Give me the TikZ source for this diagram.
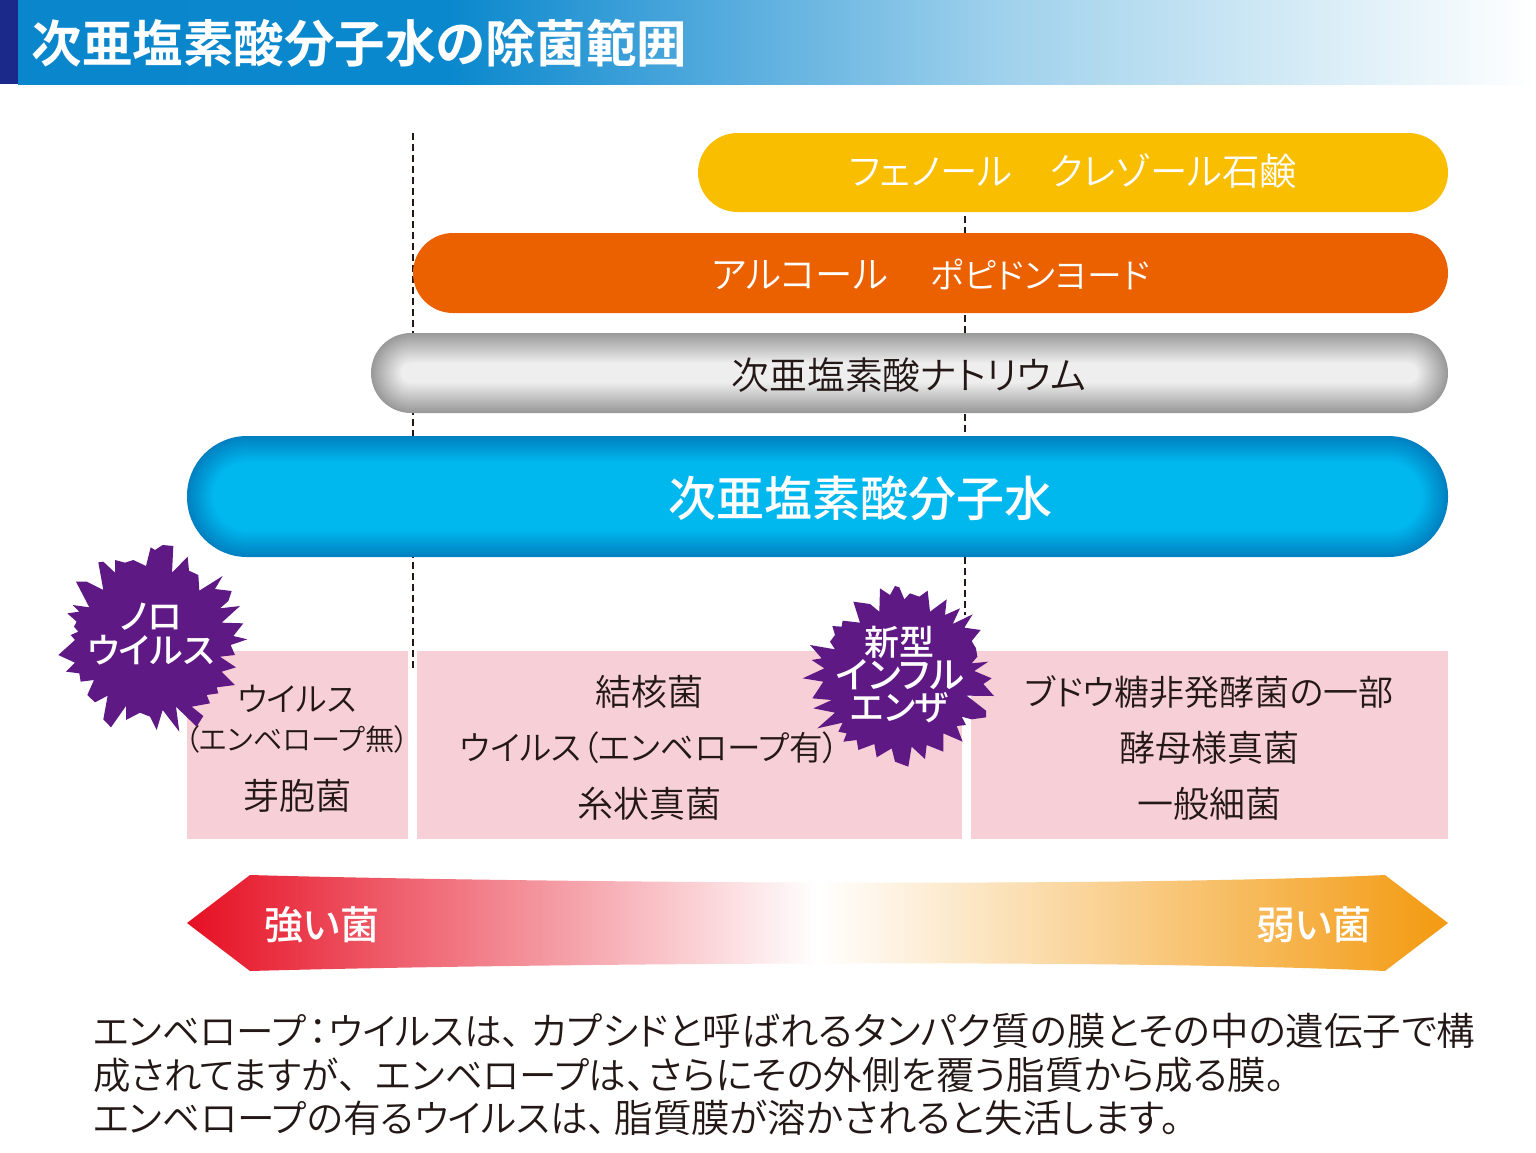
\documentclass[tikz,border=0pt]{standalone}
\usepackage{fontspec}
\setmainfont{Noto Sans CJK JP}
\newfontfamily\jp[RawFeature=+palt]{Noto Sans CJK JP DemiLight}
\newfontfamily\jpn{Noto Sans CJK JP DemiLight}
\newfontfamily\jpm[RawFeature=+palt]{Noto Sans CJK JP Medium}
\newfontfamily\jpt[RawFeature=+palt]{Noto Sans CJK JP Bold}
\newcommand{\ten}[1]{{\jpn 、}\kern#1pt\relax}
\newcommand{\wider}[1]{{\fontsize{38.5pt}{38.5pt}\selectfont #1}}
\definecolor{navy}{HTML}{1B2A8A}
\definecolor{yellowbar}{HTML}{FABE00}
\definecolor{orangebar}{HTML}{EB6100}
\definecolor{pinkbox}{HTML}{F7CFD6}
\definecolor{burst}{HTML}{5F1985}
\definecolor{inkdark}{HTML}{231815}
\definecolor{arrowred}{HTML}{E60F23}
\definecolor{arroworange}{HTML}{F39A10}
\definecolor{greyedge}{HTML}{999999}
\definecolor{greymid}{HTML}{EEEEEE}
\definecolor{blueedge}{HTML}{0080C0}
\definecolor{bluemid}{HTML}{00B7EE}
\pgfdeclarehorizontalshading{titlegrad}{100bp}{
  rgb(0bp)=(0.04,0.525,0.80);
  rgb(25bp)=(0.04,0.525,0.80);
  rgb(39.25bp)=(0.04,0.535,0.805);
  rgb(47.5bp)=(0.306,0.659,0.863);
  rgb(57.35bp)=(0.624,0.82,0.925);
  rgb(67.25bp)=(0.835,0.922,0.965);
  rgb(75bp)=(1,1,1);
  rgb(100bp)=(1,1,1)}
\newcommand{\glowbar}[8]{%
  \foreach \k in {0,...,#8}{%
    \pgfmathsetmacro{\pc}{100*(\k/#8)}%
    \pgfmathsetmacro{\rr}{max(#5-\k,1)}%
    \fill[rounded corners=\rr pt, color=#7!\pc!#6]
      ({#1+\k},{#2+\k}) rectangle ({#3-\k},{#4-\k});
  }}
\tikzset{
  txt/.style={inner sep=0pt,outer sep=0pt,anchor=center,font=\jp\fontsize{#1}{#1}\selectfont,text=inkdark},
  wtxt/.style={inner sep=0pt,outer sep=0pt,anchor=center,font=\jp\fontsize{#1}{#1}\selectfont,text=white},
  mtxt/.style={inner sep=0pt,outer sep=0pt,anchor=center,font=\jpm\fontsize{#1}{#1}\selectfont,text=white},
  ttxt/.style={inner sep=0pt,outer sep=0pt,anchor=center,font=\jpt\fontsize{#1}{#1}\selectfont,text=white},
  guide/.style={draw=inkdark,line width=1.2pt,dash pattern=on 7pt off 4pt},
  pinkrect/.style={fill=pinkbox}
}
\begin{document}
\begin{tikzpicture}[x=1pt,y=-1pt]
\useasboundingbox (0,0) rectangle (1536,1152);
\fill[white] (0,0) rectangle (1536,1152);
% title band
\shade[shading=titlegrad,shading angle=0] (18,0) rectangle (1536,84);
\fill[navy] (0,0) rectangle (18,84);
\node[ttxt=50.5pt,anchor=west] (title) at (31.5,43) {次亜塩素酸分子水の除菌範囲};
% dashed guides
\coordinate (ga) at (413,133); \coordinate (gb) at (413,670);
\coordinate (gc) at (965,205); \coordinate (gd) at (965,615);
\draw[guide] (ga) -- (gb);
\draw[guide] (gc) -- (gd);
% bars
\fill[yellowbar,rounded corners=39.5pt] (698,133) rectangle (1448,212);
\fill[orangebar,rounded corners=40pt] (413,233) rectangle (1448,313);
\glowbar{371}{333}{1448}{413}{40}{greyedge}{greymid}{30}
\glowbar{187}{436}{1448}{557}{60}{blueedge}{bluemid}{26}
\node[wtxt=37.4pt] (phenol) at (1073,171) {フェノール　クレゾール石鹸};
\node[wtxt=37.4pt,anchor=west] (alcohol) at (712,274) {アルコール　\kern5pt{\fontsize{34.8pt}{36pt}\selectfont ポピドンヨード}};
\node[txt=37.8pt] (naocl) at (909,375) {次亜塩素酸ナトリウム};
\node[mtxt=48pt] (hocl) at (860,498) {次亜塩素酸分子水};
% pink boxes
\fill[pinkrect] (187,651) rectangle (408,839);
\fill[pinkrect] (417,651) rectangle (962,839);
\fill[pinkrect] (971,651) rectangle (1448,839);
\node[txt=33pt] (b1a) at (297,699) {ウイルス};
\node[txt=29.2pt] (b1b) at (297,739) {（エンベロープ無）};
\node[txt=36pt] (b1c) at (297.5,796) {芽胞菌};
\node[txt=36pt] (b2a) at (649.5,692) {結核菌};
\node[txt=33.6pt] (b2b) at (650,748) {ウイルス（エンベロープ有）};
\node[txt=36pt] (b2c) at (649,804) {糸状真菌};
\node[txt=35pt] (b3a) at (1209,692) {ブドウ糖非発酵菌の一部};
\node[txt=36pt] (b3b) at (1209.5,748) {酵母様真菌};
\node[txt=36pt] (b3c) at (1209.5,804) {一般細菌};
% bursts
\begin{scope}[shift={(40pt,-530pt)},x=.33333pt,y=-.33333pt]
\fill[burst] (368,45)--(400,48)--(396,128)--(443,80)--(447,122)--(475,135)--(478,182)--(548,138)--(525,177)--(575,183)--(565,213)--(540,235)--(600,228)--(545,278)--(610,280)--(580,318)--(622,328)--(572,345)--(585,375)--(540,380)--(588,412)--(545,425)--(585,465)--(530,472)--(535,490)--(500,495)--(510,520)--(455,530)--(490,558)--(470,590)--(408,530)--(418,605)--(368,540)--(350,600)--(330,560)--(300,548)--(258,570)--(258,528)--(213,592)--(190,568)--(203,497)--(165,517)--(142,495)--(162,450)--(122,455)--(118,430)--(78,425)--(105,398)--(55,375)--(105,330)--(92,315)--(115,305)--(102,290)--(110,275)--(82,250)--(118,245)--(98,225)--(148,232)--(108,155)--(140,155)--(190,180)--(175,97)--(190,95)--(225,128)--(225,90)--(255,98)--(280,90)--(318,108)--(332,52)--(345,60)--cycle;
\end{scope}
\begin{scope}[shift={(780pt,-560pt)},x=.33333pt,y=-.33333pt]
\fill[burst] (345,78)--(358,82)--(373,118)--(390,100)--(418,110)--(443,92)--(450,155)--(500,118)--(495,165)--(540,145)--(518,192)--(578,163)--(553,203)--(602,210)--(575,243)--(588,265)--(592,290)--(575,310)--(625,305)--(583,333)--(635,355)--(610,372)--(642,408)--(560,407)--(618,452)--(618,472)--(575,478)--(545,470)--(558,495)--(530,498)--(548,545)--(490,520)--(490,575)--(440,555)--(435,597)--(395,560)--(385,620)--(345,605)--(335,565)--(290,592)--(283,552)--(235,570)--(230,540)--(190,545)--(200,520)--(175,515)--(188,488)--(112,505)--(165,458)--(100,445)--(155,420)--(97,415)--(130,365)--(68,355)--(133,325)--(95,300)--(125,295)--(90,255)--(165,268)--(150,245)--(165,225)--(157,198)--(185,200)--(188,182)--(240,188)--(220,125)--(270,132)--(298,155)--(300,85)--(330,105)--cycle;
\end{scope}
\node[mtxt=35pt] (n1) at (151,617) {ノロ};
\node[mtxt=35pt] (n2) at (151,650) {ウイルス};
\node[mtxt=35pt] (f1) at (899.5,642) {新型};
\node[mtxt=36.5pt] (f2) at (900,675) {インフル};
\node[mtxt=35pt] (f3) at (899.5,708) {エンザ};
% strength arrow
\shade[left color=arrowred,right color=arroworange,middle color=white,shading angle=90]
  (187,923) -- (250,875) .. controls (500,882) and (1100,888) .. (1385,875) -- (1448,923) -- (1385,971) .. controls (1100,958) and (500,964) .. (250,971) -- cycle;
\node[mtxt=39pt] (strong) at (322,925) {強い菌};
\node[mtxt=39pt] (weak) at (1314,925) {弱い菌};
% note
\node[txt=37.5pt,anchor=west] (l1) at (93,1031) {エンベロープ\kern-7pt{\jpn ：}\kern-8ptウイルスは\ten{-8}\wider{カプシドと呼ばれるタンパク質の膜とその中の遺伝子で構}};
\node[txt=37.5pt,anchor=west] (l2) at (93,1075) {成されてますが\ten{0}エンベロープは\ten{-16}\wider{さらにその外側を覆う脂質から成る膜。}};
\node[txt=37.6pt,anchor=west] (l3) at (93,1118) {エンベロープの有るウイルスは\ten{-11}\wider{脂質膜が溶かされると失活します。}};
\end{tikzpicture}
\end{document}
